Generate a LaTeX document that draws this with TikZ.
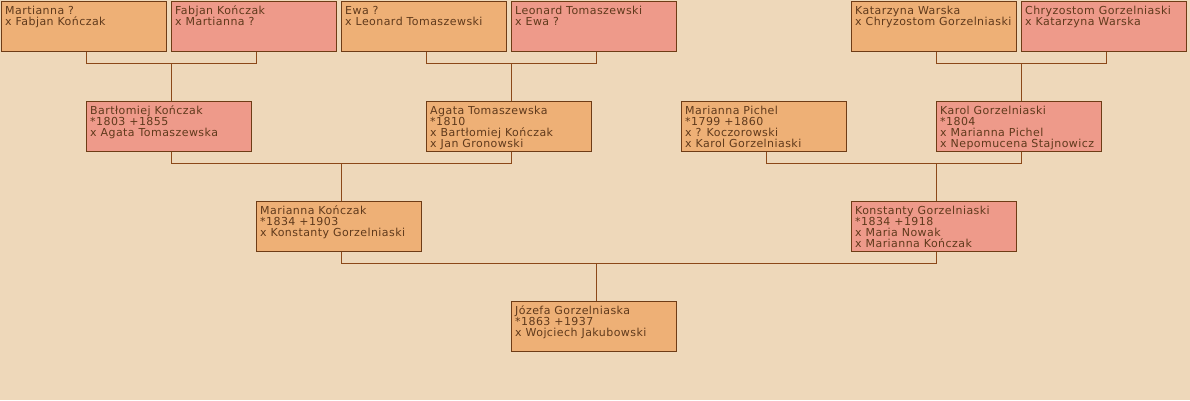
\documentclass[tikz,border=0pt]{standalone}
\usepackage{fontspec}
\setmainfont{DejaVu Sans}[LetterSpace=4]
\usepackage{xcolor}
\usepackage{tikz}
\usetikzlibrary{positioning}
\definecolor{bgpaper}{RGB}{238,216,186}
\definecolor{wifebox}{RGB}{238,176,118}
\definecolor{husbox}{RGB}{238,154,138}
\definecolor{boxline}{RGB}{110,60,22}
\definecolor{treeline}{RGB}{140,72,24}
\definecolor{inktext}{RGB}{96,58,28}
\tikzstyle{person} = [draw=boxline, line width=1pt, minimum width=165pt, minimum height=50pt, anchor=north west, inner sep=0pt]
\tikzstyle{info} = [anchor=north west, inner sep=0pt, align=left, text=inktext, font=\fontsize{11}{11}\selectfont]
\tikzstyle{link} = [draw=treeline, line width=1pt]

\begin{document}
\begin{tikzpicture}[x=1pt, y=-1pt]
    % Background
    \fill[bgpaper] (0,0) rectangle (1190,400);
    \useasboundingbox (0,0) rectangle (1190,400);

    % Persons
    \foreach \name/\x/\y/\col/\txt in {
        martianna/0/0/wifebox/{Martianna ?\\x Fabjan Kończak},
        fabjan/170/0/husbox/{Fabjan Kończak\\x Martianna ?},
        ewa/340/0/wifebox/{Ewa ?\\x Leonard Tomaszewski},
        leonard/510/0/husbox/{Leonard Tomaszewski\\x Ewa ?},
        katarzyna/850/0/wifebox/{Katarzyna Warska\\x Chryzostom Gorzelniaski},
        chryzostom/1020/0/husbox/{Chryzostom Gorzelniaski\\x Katarzyna Warska},
        bartlomiej/85/100/husbox/{Bartłomiej Kończak\\*1803 +1855\\x Agata Tomaszewska},
        agata/425/100/wifebox/{Agata Tomaszewska\\*1810\\x Bartłomiej Kończak\\x Jan Gronowski},
        pichel/680/100/wifebox/{Marianna Pichel\\*1799 +1860\\x ? Koczorowski\\x Karol Gorzelniaski},
        karol/935/100/husbox/{Karol Gorzelniaski\\*1804\\x Marianna Pichel\\x Nepomucena Stajnowicz},
        mariannak/255/200/wifebox/{Marianna Kończak\\*1834 +1903\\x Konstanty Gorzelniaski},
        konstanty/850/200/husbox/{Konstanty Gorzelniaski\\*1834 +1918\\x Maria Nowak\\x Marianna Kończak},
        jozefa/510/300/wifebox/{Józefa Gorzelniaska\\*1863 +1937\\x Wojciech Jakubowski}} {
        \node[person, fill=\col] (\name) at (\x+0.5,\y+0.5) {};
        \node[info] (\name-txt) at ([shift={(4.5,5)}]\name.north west) {\rule{0pt}{9pt}\txt};
    }

    % Family links
    \foreach \pa/\pb/\kid in {martianna/fabjan/bartlomiej, ewa/leonard/agata,
        katarzyna/chryzostom/karol, bartlomiej/agata/mariannak,
        pichel/karol/konstanty, mariannak/konstanty/jozefa} {
        \draw[link] ([xshift=2.5]\pa.south) -- ++(0,12) -| ([xshift=2.5]\pb.south);
        \draw[link] ([xshift=2.5]\kid.north) -- ++(0,-38);
    }
\end{tikzpicture}
\end{document}
